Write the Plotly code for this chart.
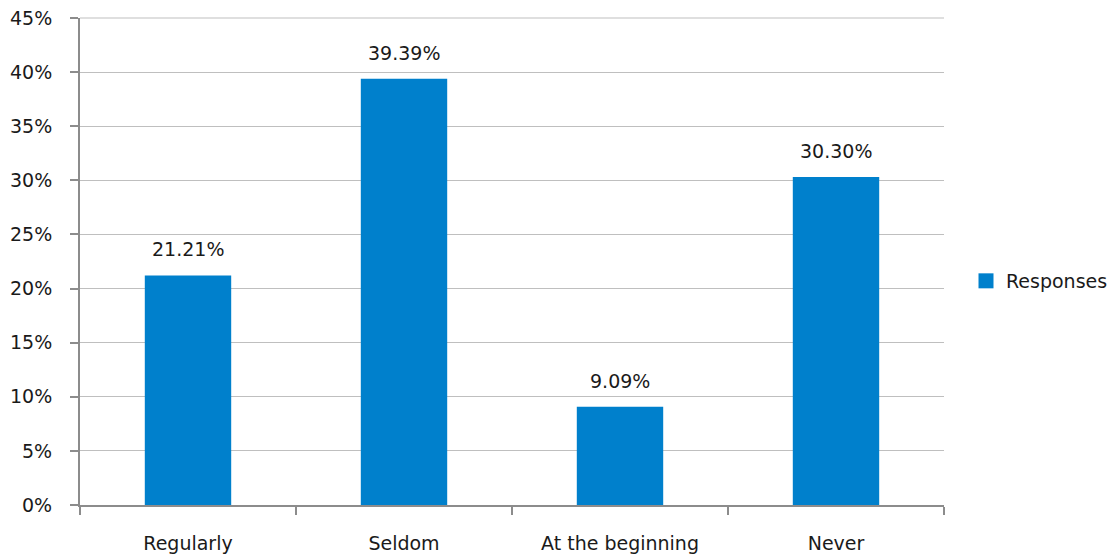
import plotly.graph_objects as go

categories = ["Regularly", "Seldom", "At the beginning", "Never"]
values = [0.2121, 0.3939, 0.0909, 0.3030]
labels = ["21.21%", "39.39%", "9.09%", "30.30%"]
series_name = "Responses"

FONT = "'DejaVu Sans', sans-serif"
FS = 19
BLUE = "#0080CC"

fig = go.Figure()
fig.add_trace(go.Bar(
    x=categories, y=values, name=series_name,
    marker=dict(color=BLUE, line=dict(width=0)),
    width=0.4, showlegend=False,
))
# legend entry with a larger square swatch
fig.add_trace(go.Scatter(
    x=[None], y=[None], mode="markers", name=series_name,
    marker=dict(symbol="square", size=15, color=BLUE),
    showlegend=True,
))
for c, v, t in zip(categories, values, labels):
    fig.add_annotation(x=c, y=v, text=t, showarrow=False, yanchor="bottom",
                       yshift=13, font=dict(size=FS, family=FONT, color="#1a1a1a"))

# top gridline (plotly omits the gridline at the upper edge of the range)
fig.add_shape(type="line", xref="paper", yref="paper", x0=0, x1=1, y0=1, y1=1,
              line=dict(color="#BFBFBF", width=1), layer="below")

# page body adds an 8px offset; size the figure so the plot area lands at
# x 80..944, y 18..505 of the window
fig.update_layout(
    width=1111, height=546,
    margin=dict(l=72, r=175, t=10, b=49, autoexpand=False),
    paper_bgcolor="white", plot_bgcolor="white",
    font=dict(family=FONT, size=FS, color="#1a1a1a"),
    showlegend=True,
    legend=dict(x=(966 - 80) / 864, y=0.46, xanchor="left", yanchor="middle",
                font=dict(size=FS, family=FONT), itemwidth=30,
                tracegroupgap=0, bgcolor="rgba(0,0,0,0)", borderwidth=0),
)
fig.update_yaxes(
    range=[0, 0.45], dtick=0.05, tickformat=".0%",
    showgrid=True, gridcolor="#BFBFBF", gridwidth=1,
    showline=True, linecolor="#8C8C8C", linewidth=2,
    ticks="outside", ticklen=8, tickcolor="#8C8C8C", tickwidth=2,
    ticklabelstandoff=14, ticklabeloverflow="allow",
    zeroline=False, automargin=False,
)
fig.update_xaxes(
    showline=True, linecolor="#8C8C8C", linewidth=2,
    ticks="outside", tickson="boundaries", ticklen=8,
    tickcolor="#8C8C8C", tickwidth=2, showgrid=False,
    ticklabelstandoff=20, automargin=False,
)

fig.write_html("out.html")
